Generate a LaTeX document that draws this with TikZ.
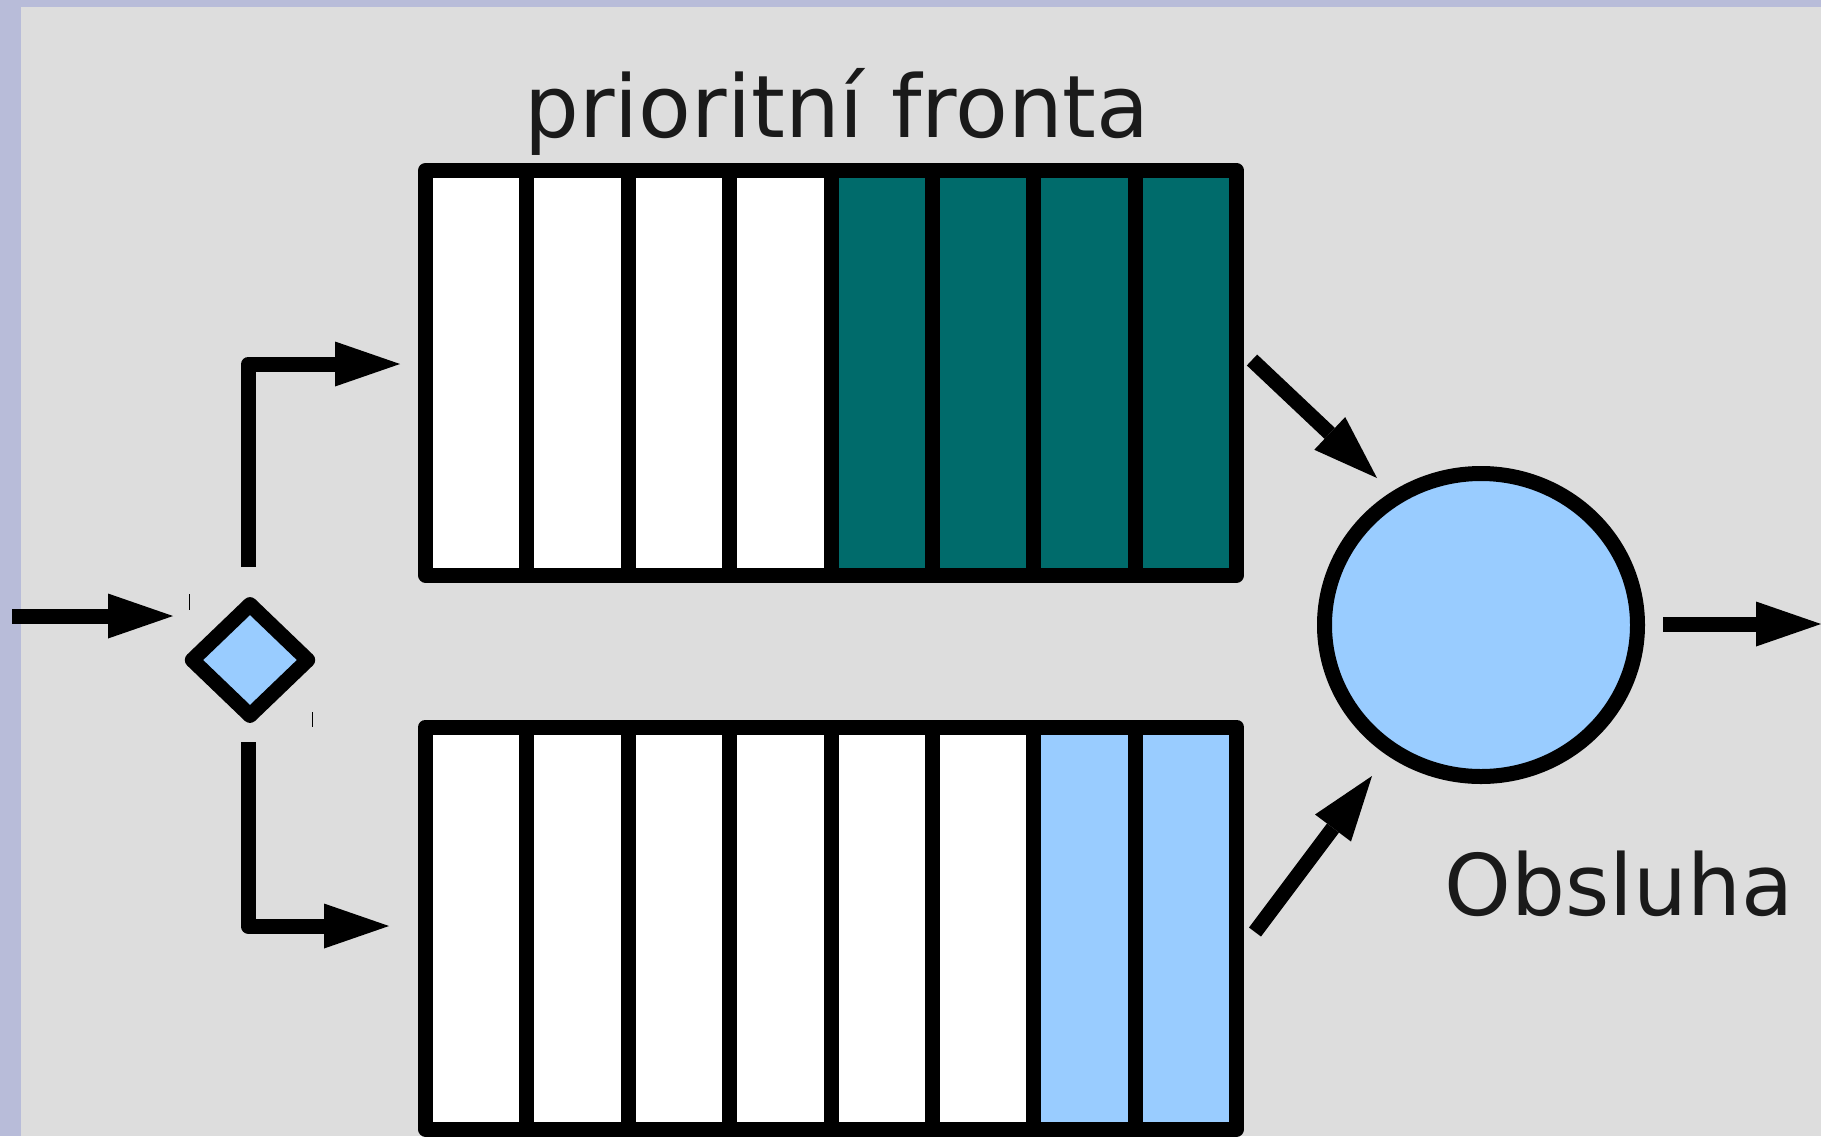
\documentclass[tikz,border=0pt]{standalone}
\usepackage{fontspec}
\setmainfont{DejaVu Sans}
\usetikzlibrary{arrows.meta,shapes.geometric}
\definecolor{frameblue}{HTML}{B8BCD9}
\definecolor{paper}{HTML}{DDDDDD}
\definecolor{teal}{HTML}{006B6B}
\definecolor{skyblue}{HTML}{99CCFF}
\definecolor{ink}{HTML}{1A1A1A}
\tikzset{
  px/.style={x=0.5pt,y=-0.5pt},
  cell/.style={draw=black,line width=7.5pt,line join=round,rectangle,
    inner sep=0pt,outer sep=0pt,minimum width=50.7pt},
  flow/.style={draw=black,line width=7.5pt,line join=round,line cap=butt,
    -{Triangle[length=32.5pt,width=22.5pt,line width=0pt]}},
  label/.style={text=ink,anchor=base,inner sep=0pt},
  tick/.style={draw=black,line width=0.5pt}
}
\begin{document}
\begin{tikzpicture}[px]
  % page: lavender frame with grey sheet
  \fill[frameblue] (0,0) rectangle (1821,1136);
  \fill[paper] (21,7) rectangle (1821,1136);
  \useasboundingbox (0,0) rectangle (1821,1136);

  % upper queue: four empty slots, four occupied
  \foreach \k in {0,...,7}{
    \pgfmathsetmacro{\cx}{476.2+101.4*\k}
    \ifnum\k<4 \def\cfill{white}\else\def\cfill{teal}\fi
    \node[cell,fill=\cfill,minimum height=202.25pt] (hi\k) at (\cx,372.75) {};
  }
  % lower queue: six empty slots, two occupied
  \foreach \k in {0,...,7}{
    \pgfmathsetmacro{\cx}{476.2+101.4*\k}
    \ifnum\k<6 \def\cfill{white}\else\def\cfill{skyblue}\fi
    \node[cell,fill=\cfill,minimum height=201pt] (lo\k) at (\cx,928) {};
  }

  % classifier and server
  \node[diamond,draw=black,fill=skyblue,line width=7.5pt,line join=round,
    inner sep=0pt,minimum width=60.8pt,minimum height=58.5pt] (sel) at (250,660) {};
  \node[ellipse,draw=black,fill=skyblue,line width=7.5pt,inner sep=0pt,
    minimum width=156.5pt,minimum height=151.5pt] (srv) at (1481,625) {};

  % labels
  \node[label,font=\fontsize{43.2}{50}\selectfont] (title) at (837,137) {prioritní fronta};
  \node[label,font=\fontsize{42.5}{50}\selectfont] (srvlabel) at (1619,915) {Obsluha};

  % connector end points
  \coordinate (inA) at (12,616);
  \coordinate (inB) at (173,616);
  \coordinate (upA) at (248.5,567);
  \coordinate (upB) at (400,364);
  \coordinate (dnA) at (248,742);
  \coordinate (dnB) at (389,926);
  \coordinate (hiOut) at (1252,360);
  \coordinate (hiIn) at (1377,478);
  \coordinate (loOut) at (1255,932);
  \coordinate (loIn) at (1372,776);
  \coordinate (outA) at (1663,624);
  \coordinate (outB) at (1821,624);

  % connectors
  \draw[flow] (inA) -- (inB);
  \draw[flow] (upA) |- (upB);
  \draw[flow] (dnA) |- (dnB);
  \draw[flow] (hiOut) -- (hiIn);
  \draw[flow] (loOut) -- (loIn);
  \draw[flow] (outA) -- (outB);

  % small selection marks beside the classifier
  \coordinate (tkA) at (189,594);
  \coordinate (tkB) at (189,610);
  \coordinate (tkC) at (312,712);
  \coordinate (tkD) at (312,727);
  \draw[tick] (tkA) -- (tkB);
  \draw[tick] (tkC) -- (tkD);
\end{tikzpicture}
\end{document}
